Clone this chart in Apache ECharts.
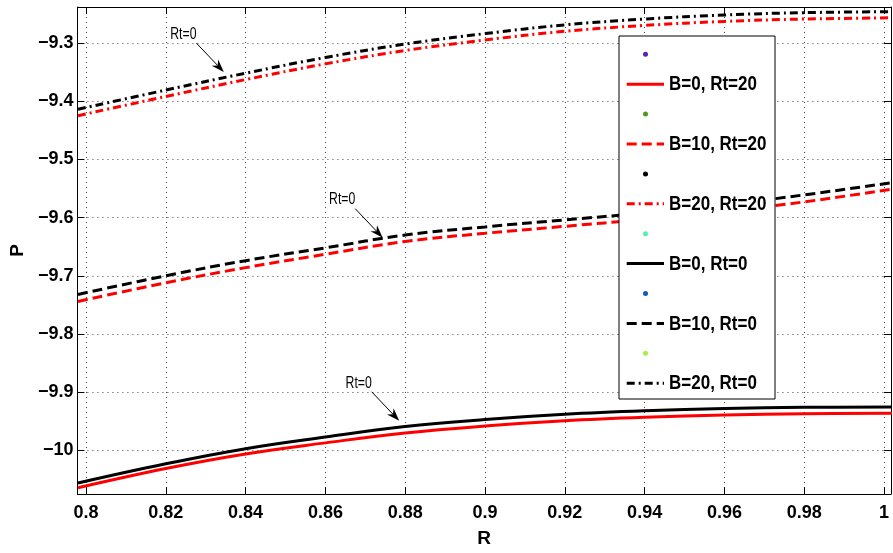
<!DOCTYPE html>
<html>
<head>
<meta charset="utf-8">
<script src="https://cdn.jsdelivr.net/npm/echarts@6/dist/echarts.min.js"></script>
<style>
  html, body { margin: 0; padding: 0; background: #fff; }
  #chart { width: 893px; height: 553px; }
</style>
</head>
<body>
<div id="chart"></div>
<script>
// Radius values shared by every curve
const R = [0.798, 0.82, 0.84, 0.86, 0.88, 0.90, 0.92, 0.94, 0.96, 0.98, 1.002];

// Pressure curves, Rt = 20 (red)
const pB0Rt20  = [-10.064, -10.031, -10.006, -9.987, -9.970, -9.958, -9.949, -9.943, -9.939, -9.937, -9.936];
const pB10Rt20 = [-9.744, -9.712, -9.686, -9.663, -9.641, -9.627, -9.615, -9.603, -9.589, -9.573, -9.551];
const pB20Rt20 = [-9.425, -9.392, -9.363, -9.336, -9.313, -9.295, -9.280, -9.270, -9.263, -9.259, -9.2569];

// Pressure curves, Rt = 0 (black)
const pB0Rt0  = [-10.056, -10.023, -9.997, -9.977, -9.959, -9.947, -9.938, -9.932, -9.928, -9.926, -9.9255];
const pB10Rt0 = [-9.732, -9.700, -9.674, -9.652, -9.630, -9.616, -9.604, -9.592, -9.578, -9.561, -9.540];
const pB20Rt0 = [-9.414, -9.381, -9.352, -9.325, -9.302, -9.284, -9.269, -9.259, -9.252, -9.248, -9.2464];

// Axis ticks
const xTicks = [0.8, 0.82, 0.84, 0.86, 0.88, 0.9, 0.92, 0.94, 0.96, 0.98, 1];
const yTicks = [-10, -9.9, -9.8, -9.7, -9.6, -9.5, -9.4, -9.3];
const xRange = [0.79786, 1.00174];
const yRange = [-10.0748, -9.2383];

// Legend: each labelled line entry is preceded by an unlabelled coloured dot
const legendLines = ['B=0, Rt=20', 'B=10, Rt=20', 'B=20, Rt=20', 'B=0, Rt=0', 'B=10, Rt=0', 'B=20, Rt=0'];
const dotColors = ['#5a1fb6', '#4f9a1c', '#000000', '#55f2a6', '#1259b8', '#a6f046'];

// Annotation arrow tips (R, P)
const annotText = 'Rt=0';
const annotTips = [[0.83455, -9.350], [0.87436, -9.6345], [0.8785, -9.9491]];

const DASH = [10, 5];
const DASHDOT = [8, 4, 2, 4];
const pair = (ys) => R.map((r, i) => [r, ys[i]]);
const curves = [
  { name: legendLines[0], data: pB0Rt20,  color: '#ff0000', dash: null },
  { name: legendLines[1], data: pB10Rt20, color: '#ff0000', dash: DASH },
  { name: legendLines[2], data: pB20Rt20, color: '#ff0000', dash: DASHDOT },
  { name: legendLines[3], data: pB0Rt0,   color: '#000000', dash: null },
  { name: legendLines[4], data: pB10Rt0,  color: '#000000', dash: DASH },
  { name: legendLines[5], data: pB20Rt0,  color: '#000000', dash: DASHDOT }
];

const FONT = '"Liberation Sans", Arial, sans-serif';
const fmtNum = (v) => (v < 0 ? '\u2212' : '') + String(Math.abs(v));

const series = curves.map((c) => ({
  name: c.name,
  type: 'line',
  data: pair(c.data),
  smooth: 0.4,
  symbol: 'none',
  z: c.color === '#000000' ? 3 : 2,
  lineStyle: { color: c.color, width: 3, type: c.dash || 'solid' },
  itemStyle: { color: c.color }
}));

const axisCommon = {
  type: 'value',
  axisLine: { show: true, onZero: false, lineStyle: { color: '#000', width: 1 } },
  axisTick: { show: true, inside: true, length: 7, lineStyle: { color: '#000', width: 1 } }
};
const gridLine = { show: true, lineStyle: { color: '#444', width: 1, type: [1, 4] } };
const tickFont = { color: '#000', fontFamily: FONT, fontWeight: 'bold', fontSize: 18 };
const nameFont = { color: '#000', fontFamily: FONT, fontWeight: 'bold', fontSize: 19 };

const chart = echarts.init(document.getElementById('chart'), null, { renderer: 'canvas' });
chart.setOption({
  animation: false,
  backgroundColor: '#fff',
  grid: { left: 71, right: 2, top: 7, bottom: 54 },
  xAxis: [
    Object.assign({}, axisCommon, {
      min: xRange[0], max: xRange[1], position: 'bottom',
      axisTick: Object.assign({}, axisCommon.axisTick, { customValues: xTicks }),
      axisLabel: Object.assign({ customValues: xTicks, formatter: fmtNum, margin: 10 }, tickFont),
      splitLine: gridLine,
      name: 'R', nameLocation: 'middle', nameGap: 35, nameTextStyle: nameFont
    }),
    Object.assign({}, axisCommon, {
      min: xRange[0], max: xRange[1], position: 'top',
      axisTick: Object.assign({}, axisCommon.axisTick, { customValues: xTicks }),
      axisLabel: { show: false }, splitLine: { show: false }
    })
  ],
  yAxis: [
    Object.assign({}, axisCommon, {
      min: yRange[0], max: yRange[1], position: 'left',
      axisTick: Object.assign({}, axisCommon.axisTick, { customValues: yTicks }),
      axisLabel: Object.assign({ customValues: yTicks, formatter: fmtNum, margin: 4 }, tickFont),
      splitLine: gridLine,
      name: 'P', nameLocation: 'middle', nameGap: 44, nameRotate: 90, nameTextStyle: nameFont
    }),
    Object.assign({}, axisCommon, {
      min: yRange[0], max: yRange[1], position: 'right',
      axisTick: Object.assign({}, axisCommon.axisTick, { customValues: yTicks }),
      axisLabel: { show: false }, splitLine: { show: false }
    })
  ],
  series: series
});

// Legend box, drawn as graphic elements so the condensed lettering can be reproduced
function buildLegend() {
  const Z = 20;
  const box = { x: 619, y: 36, w: 156, h: 363 };
  const first = 54.3, pitch = 29.9;
  const els = [{
    type: 'rect', silent: true, z: Z,
    shape: { x: box.x, y: box.y, width: box.w, height: box.h },
    style: { fill: '#fff', stroke: '#000', lineWidth: 1 }
  }];
  curves.forEach((c, i) => {
    const dotY = first + pitch * (2 * i);
    const lineY = first + pitch * (2 * i + 1);
    els.push({
      type: 'circle', silent: true, z: Z + 1,
      shape: { cx: 645.5, cy: dotY, r: 2.5 },
      style: { fill: dotColors[i] }
    });
    els.push({
      type: 'line', silent: true, z: Z + 1,
      shape: { x1: 626.7, y1: lineY, x2: 664, y2: lineY },
      style: { stroke: c.color, lineWidth: 3, lineDash: c.dash || null }
    });
    els.push({
      type: 'text', silent: true, z: Z + 1,
      x: 669, y: lineY + 0.5, scaleX: 0.81,
      style: { text: c.name, fill: '#000', font: 'bold 21px ' + FONT, align: 'left', verticalAlign: 'middle' }
    });
  });
  return els;
}

// Annotation arrows pointing at the Rt = 0 curves
function buildAnnotations() {
  const els = [];
  annotTips.forEach((tp) => {
    const tip = chart.convertToPixel({ xAxisIndex: 0, yAxisIndex: 0 }, tp);
    const tail = [tip[0] - 27.5, tip[1] - 29];
    const dx = tip[0] - tail[0], dy = tip[1] - tail[1];
    const len = Math.sqrt(dx * dx + dy * dy);
    const ux = dx / len, uy = dy / len;
    const nx = -uy, ny = ux;
    const headLen = 13, halfW = 4.5, notch = 9;
    const base = [tip[0] - ux * headLen, tip[1] - uy * headLen];
    els.push({
      type: 'line', silent: true, z: 10,
      shape: { x1: tail[0], y1: tail[1], x2: tip[0] - ux * notch, y2: tip[1] - uy * notch },
      style: { stroke: '#000', lineWidth: 1 }
    });
    els.push({
      type: 'polygon', silent: true, z: 10,
      shape: { points: [
        tip,
        [base[0] + nx * halfW, base[1] + ny * halfW],
        [tip[0] - ux * notch, tip[1] - uy * notch],
        [base[0] - nx * halfW, base[1] - ny * halfW]
      ] },
      style: { fill: '#000' }
    });
    els.push({
      type: 'text', silent: true, z: 10,
      x: tip[0] - 40.5, y: tip[1] - 38, scaleX: 0.72,
      style: { text: annotText, fill: '#000', font: '17px ' + FONT, align: 'center', verticalAlign: 'middle' }
    });
  });
  return els;
}

chart.setOption({ graphic: buildAnnotations().concat(buildLegend()) });
</script>
</body>
</html>
